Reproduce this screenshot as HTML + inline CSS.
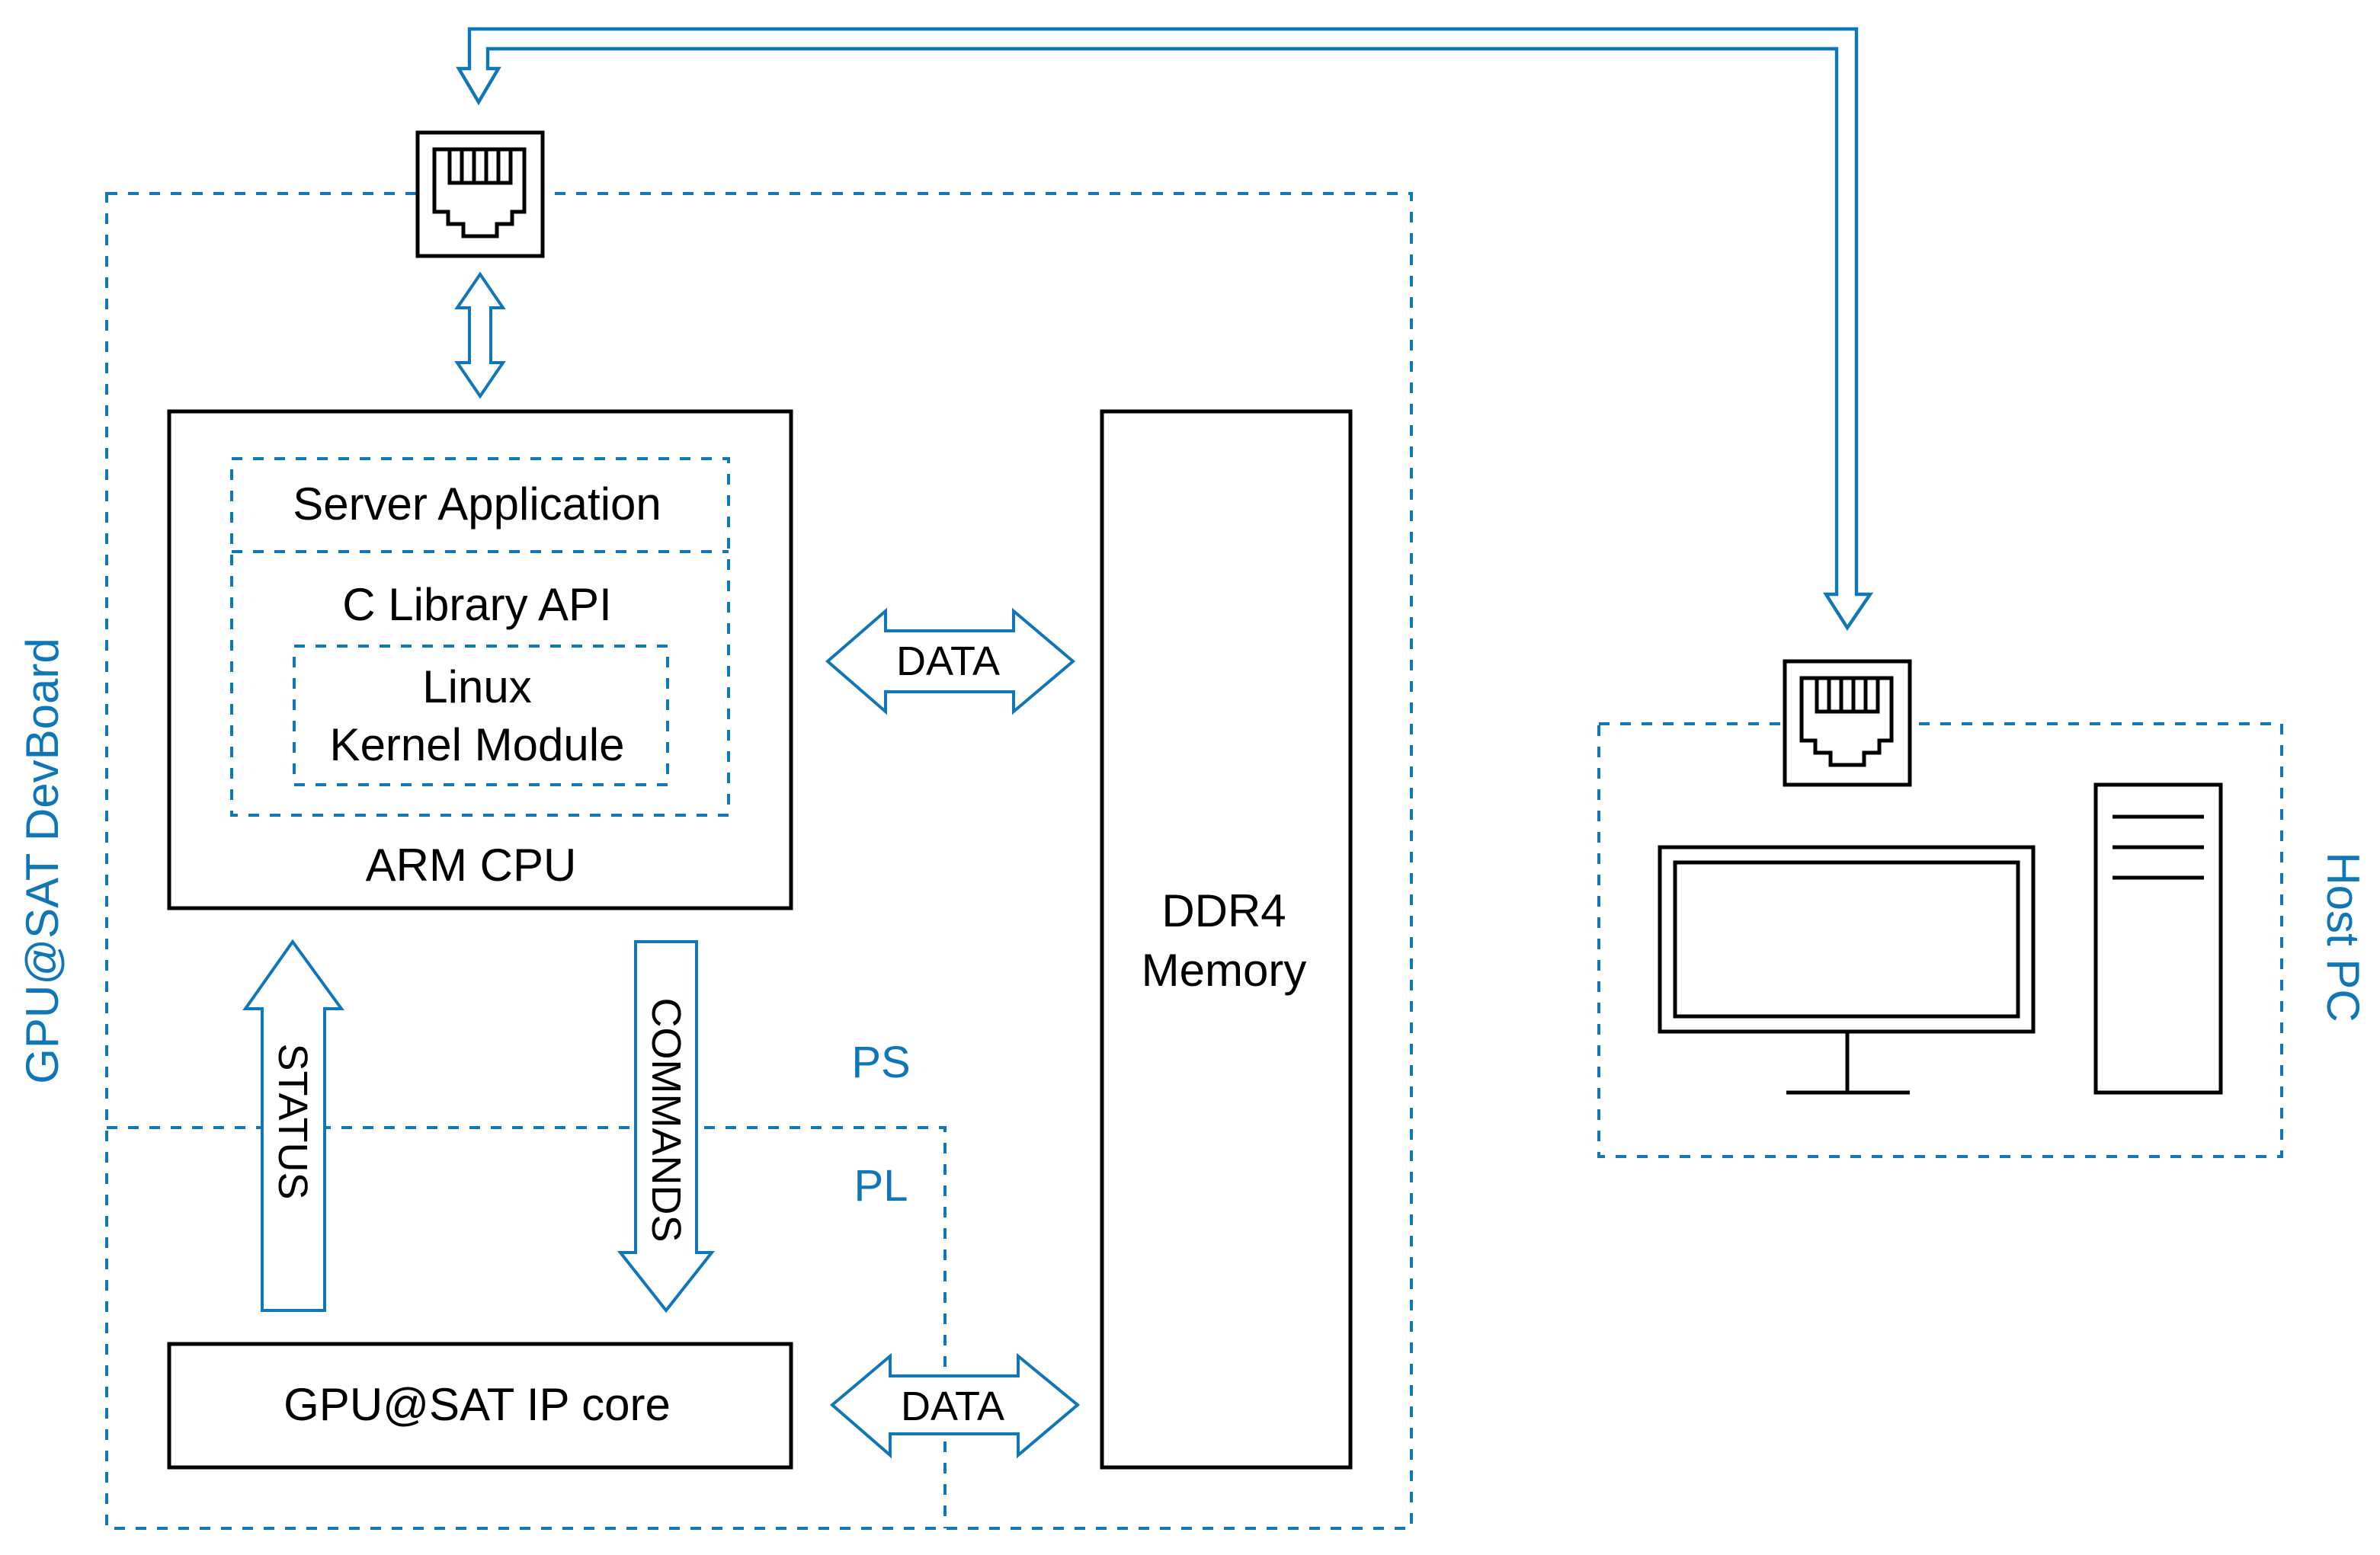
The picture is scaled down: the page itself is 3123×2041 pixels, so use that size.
<!DOCTYPE html>
<html><head><meta charset="utf-8"><style>html,body{margin:0;padding:0;background:#fff}svg{display:block}</style></head>
<body>
<svg width="3123" height="2041" viewBox="0 0 1561.5 1020.5" xmlns="http://www.w3.org/2000/svg" font-family="Liberation Sans, Arial, sans-serif">
<defs>
<g id="eth">
<rect x="0" y="0" width="82" height="81" fill="#fff" stroke="#000" stroke-width="2.5"/>
<path d="M11,11 H70 V52 H62 V60 H52 V68 H30 V60 H20 V52 H11 Z" fill="none" stroke="#000" stroke-width="2.5"/>
<path d="M21,11 V33 H61 V11 M29,11 V33 M37,11 V33 M45,11 V33 M53,11 V33" fill="none" stroke="#000" stroke-width="2.5"/>
</g>
</defs>
<g fill="none" stroke="#0F76B8" stroke-width="2" stroke-dasharray="7,7">
<rect x="70" y="127" width="856" height="876"/>
<path d="M70,740 H620 V1003"/>
<rect x="1049" y="475" width="448" height="284"/>
</g>
<path d="M308,45 V19 H1218 V390 H1227 L1212,412 L1198,390 H1205 V32 H320 V45 H327 L314,67 L301,45 Z" fill="#fff" stroke="#0F76B8" stroke-width="2.2" stroke-linejoin="miter"/>
<use href="#eth" x="274" y="87"/>
<use href="#eth" x="1171" y="434"/>
<path d="M315,180 L330,202 H322 V238 H330 L315,260 L300,238 H308 V202 H300 Z" fill="#fff" stroke="#0F76B8" stroke-width="2"/>
<rect x="111" y="270" width="408" height="326" fill="none" stroke="#000" stroke-width="2.5"/>
<g fill="none" stroke="#0F76B8" stroke-width="2" stroke-dasharray="7,7">
<rect x="152" y="301" width="326" height="234"/>
<path d="M152,362 H478"/>
<rect x="193" y="424" width="245" height="91"/>
</g>
<g font-size="30" fill="#000" text-anchor="middle">
<text x="313" y="341">Server Application</text>
<text x="313" y="407">C Library API</text>
<text x="313" y="461">Linux</text>
<text x="313" y="499">Kernel Module</text>
<text x="309" y="578">ARM CPU</text>
<text x="803" y="608">DDR4</text>
<text x="803" y="647">Memory</text>
<text x="313" y="932">GPU@SAT IP core</text>
</g>
<path d="M543,434 L581,401 V414 H665 V401 L704,434 L665,467 V454 H581 V467 Z" fill="#fff" stroke="#0F76B8" stroke-width="2"/>
<text x="622" y="443" font-size="27" text-anchor="middle">DATA</text>
<path d="M546,922 L584,890 V903 H668 V890 L707,922 L668,955 V941 H584 V955 Z" fill="#fff" stroke="#0F76B8" stroke-width="2"/>
<text x="625" y="932" font-size="27" text-anchor="middle">DATA</text>
<rect x="723" y="270" width="163" height="693" fill="none" stroke="#000" stroke-width="2.5"/>
<path d="M192,618 L224,662 H213 V860 H172 V662 H161 Z" fill="#fff" stroke="#0F76B8" stroke-width="2"/>
<text transform="translate(183,736) rotate(90)" font-size="27" text-anchor="middle">STATUS</text>
<path d="M417,618 H457 V822 H467 L437,860 L407,822 H417 Z" fill="#fff" stroke="#0F76B8" stroke-width="2"/>
<text transform="translate(428,735) rotate(90)" font-size="27" text-anchor="middle">COMMANDS</text>
<rect x="111" y="882" width="408" height="81" fill="none" stroke="#000" stroke-width="2.5"/>
<g fill="#0F76B8" font-size="29">
<text x="578" y="707" text-anchor="middle">PS</text>
<text x="578" y="788" text-anchor="middle">PL</text>
<text transform="translate(38,565) rotate(-90)" text-anchor="middle" font-size="30">GPU@SAT DevBoard</text>
<text transform="translate(1527,615) rotate(90)" text-anchor="middle" font-size="30">Host PC</text>
</g>
<g fill="none" stroke="#000" stroke-width="2.5">
<rect x="1089" y="556" width="245" height="121"/>
<rect x="1099" y="566" width="225" height="101"/>
<path d="M1212,677 V717 M1172,717 H1253"/>
<rect x="1375" y="515" width="82" height="202"/>
<path d="M1386,536 H1446 M1386,556 H1446 M1386,576 H1446"/>
</g>
</svg>
</body></html>
